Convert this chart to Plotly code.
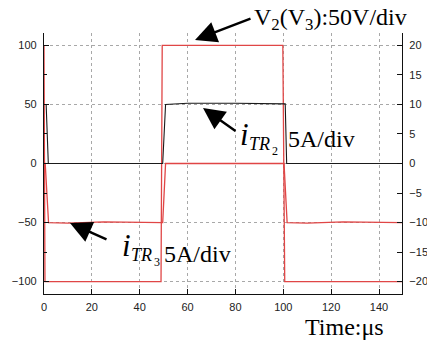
import plotly.graph_objects as go

# ---- data ----
# V2(V3) voltage trace (left axis, V)
t_v = [0, 0.4, 48.9, 49.4, 99.8, 100.6, 150]
v_v = [100, -100, -100, 100, 100, -100, -100]

# i_TR2 current (right axis, A)
t_i2 = [0, 0.9, 1.8, 49.6, 50.8, 60, 80, 100.8, 101.4, 150]
v_i2 = [10, 10, 0, 0, 10, 10.2, 10.2, 10.1, 0, 0]

# i_TR3 current (right axis, A)
t_i3 = [0, 0.5, 1.9, 10, 25, 40, 49.6, 50.8, 100.3, 101.6, 110, 125, 140, 150]
v_i3 = [0, 0, -10, -10.1, -9.9, -10, -10, 0, 0, -10, -10.1, -9.9, -10, -10]

x_ticks = [0, 20, 40, 60, 80, 100, 120, 140]
y_ticks = [-100, -50, 0, 50, 100]
y2_ticks = [-20, -15, -10, -5, 0, 5, 10, 15, 20]

RED = "rgb(224,70,70)"
BLACK = "#1a1a1a"

fig = go.Figure()
fig.add_trace(go.Scatter(x=t_v, y=v_v, mode="lines", line=dict(color=RED, width=1.3), yaxis="y"))
fig.add_trace(go.Scatter(x=t_i2, y=v_i2, mode="lines", line=dict(color=BLACK, width=1.1), yaxis="y2"))
fig.add_trace(go.Scatter(x=t_i3, y=v_i3, mode="lines", line=dict(color=RED, width=1.3), yaxis="y2"))

L, R, T, B = 44, 25, 33, 50
W, H = 427, 344
pw, ph = W - L - R, H - T - B


def px(xp):
    return (xp - L) / pw


def py(yp):
    return (H - B - yp) / ph


tickfont = dict(family="Liberation Sans, Arial", size=11, color="#222")
gridkw = dict(showgrid=True, gridcolor="#a8a8a8", griddash="dot", gridwidth=1)

fig.update_layout(
    width=W, height=H,
    margin=dict(l=L, r=R, t=T, b=B, pad=0, autoexpand=False),
    paper_bgcolor="white", plot_bgcolor="white",
    showlegend=False,
    xaxis=dict(range=[0, 149.6], tickvals=x_ticks, ticks="inside", ticklen=5, tickcolor="#111",
               showline=True, linecolor="#111", linewidth=1.3, zeroline=False, automargin=False,
               tickfont=tickfont, ticklabelstandoff=3, **gridkw),
    yaxis=dict(range=[-110.5, 110.5], tickvals=y_ticks, ticks="inside", ticklen=5, tickcolor="#111",
               showline=True, linecolor="#111", linewidth=1.3, zeroline=False, automargin=False,
               tickfont=tickfont, ticklabelstandoff=4,
               minor=dict(dtick=25, tick0=0, ticks="inside", ticklen=3, tickcolor="#111", showgrid=False),
               **gridkw),
    yaxis2=dict(range=[-22.1, 22.1], tickvals=y2_ticks, overlaying="y", side="right",
                ticks="inside", ticklen=5, tickcolor="#111", automargin=False,
                showline=True, linecolor="#111", linewidth=1.3, zeroline=False, showgrid=False,
                tickfont=tickfont, ticklabelstandoff=4),
)

serif = "Liberation Serif, Times New Roman, serif"
anns = []


def text(s, x, y, size, italic=False, xanchor="left"):
    anns.append(dict(text=("<i>%s</i>" % s) if italic else s, x=px(x), y=py(y), xref="paper", yref="paper",
                     xanchor=xanchor, yanchor="middle", showarrow=False,
                     font=dict(family=serif, size=size, color="#000")))


def arrow(tipx, tipy, tailx, taily):
    anns.append(dict(text="", x=px(tipx), y=py(tipy), xref="paper", yref="paper",
                     ax=tailx - tipx, ay=taily - tipy, axref="pixel", ayref="pixel",
                     showarrow=True, arrowhead=2, arrowsize=1.8, arrowwidth=2.4,
                     arrowcolor="#000", standoff=0))


# V2(V3) label
text("V<sub>2</sub>(V<sub>3</sub>):50V/div", 252, 19, 24)
arrow(195, 40, 252, 18)

# i_TR2 label
text("i", 238, 134, 31, italic=True)
text("TR", 247, 144, 18, italic=True)
text("2", 270, 151, 12)
text("5A/div", 286, 139, 24)
arrow(203, 108, 237, 132)

# i_TR3 label
text("i", 120, 245, 31, italic=True)
text("TR", 129, 255, 18, italic=True)
text("3", 152, 262, 12)
text("5A/div", 162, 254, 24)
arrow(70, 223, 108, 240)

# axis title
text("Time:\u03bcs", 303, 327, 24)

fig.update_layout(annotations=anns)
fig.write_html("out.html")
